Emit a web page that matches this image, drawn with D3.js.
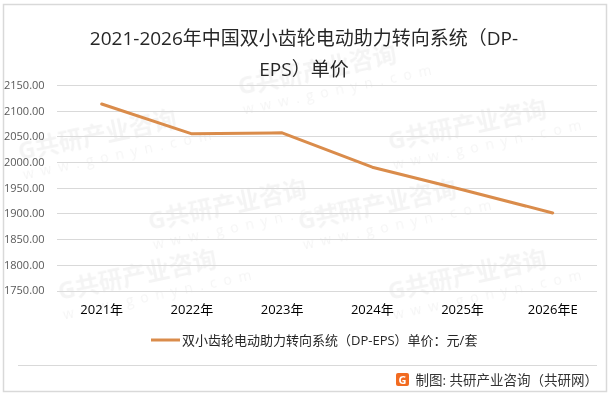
<!DOCTYPE html>
<html>
<head>
<meta charset="utf-8">
<script src="https://cdn.jsdelivr.net/npm/d3@7"></script>
<style>
  body { margin: 0; background: #fff; }
  svg text { font-family: "Open Sans", "Noto Sans CJK SC", sans-serif; }
</style>
</head>
<body>
<div id="chart"></div>
<script>
// chart data
var years = ["2021年", "2022年", "2023年", "2024年", "2025年", "2026年E"];
var prices = [2113, 2055, 2057, 1990, 1946, 1901];
var yTicks = [1750, 1800, 1850, 1900, 1950, 2000, 2050, 2100, 2150];
var titleLines = ["2021-2026年中国双小齿轮电动助力转向系统（DP-", "EPS）单价"];
var seriesName = "双小齿轮电动助力转向系统（DP-EPS）单价：元/套";

var svgWidth = 614;
var svgHeight = 396;

var svg = d3.select("#chart").append("svg").attr("width", svgWidth).attr("height", svgHeight);

// outer frame
svg.append("rect").attr("x", 3.5).attr("y", 4.5).attr("width", 603).attr("height", 387)
  .attr("fill", "#fff").attr("stroke", "#d9d9d9").attr("stroke-width", 1.5);

// faint watermarks, kept inside the frame
var wm = svg.append("g").attr("fill", "#000").attr("opacity", 0.045).attr("font-weight", "bold");
[[20, 160], [240, 95], [390, 150], [300, 230], [60, 300], [390, 300], [150, 230]].forEach(function(p) {
  var g = wm.append("g").attr("transform", `translate(${p[0]}, ${p[1]}) rotate(-12)`);
  g.append("text").attr("font-size", 24).text("G共研产业咨询");
  g.append("text").attr("y", 20).attr("font-size", 14).attr("font-weight", "normal").attr("letter-spacing", 7).text("www.gonyn.com");
});

// scales
var x = d3.scaleBand().domain(years).range([56.6, 597.8]);
var y = d3.scaleLinear().domain([1750, 2150]).range([290.5, 85]);

// gridlines
svg.append("g").selectAll("line").data(yTicks).enter().append("line")
  .attr("x1", 57).attr("x2", 597)
  .attr("y1", d => Math.round(y(d)) + 0.5).attr("y2", d => Math.round(y(d)) + 0.5)
  .attr("stroke", "#d9d9d9").attr("stroke-width", 1);

// y axis labels
svg.append("g").selectAll("text").data(yTicks).enter().append("text")
  .attr("x", 4).attr("y", d => y(d)).attr("dy", "0.35em")
  .attr("font-size", 11).attr("fill", "#595959")
  .text(d => d3.format(".2f")(d));

// x axis labels
var xAxis = d3.axisBottom(x).tickSize(0).tickPadding(0);
var xg = svg.append("g").attr("transform", "translate(0, 305)").call(xAxis);
xg.select(".domain").remove();
xg.selectAll("text").attr("font-size", 13).attr("fill", "#000")
  .style("font-family", "\"Open Sans\", \"Noto Sans CJK SC\", sans-serif");

// line
var line = d3.line().x((d, i) => x(years[i]) + x.bandwidth() / 2).y(d => y(d));
svg.append("path").datum(prices).attr("d", line)
  .attr("fill", "none").attr("stroke", "#DA8C4B").attr("stroke-width", 3)
  .attr("stroke-linejoin", "round").attr("stroke-linecap", "round");

// title
svg.append("g").selectAll("text").data(titleLines).enter().append("text")
  .attr("x", 304).attr("y", (d, i) => 45 + i * 31)
  .attr("text-anchor", "middle").attr("font-size", 19).attr("fill", "#262626")
  .text(d => d);

// legend
svg.append("line").attr("x1", 151).attr("x2", 180).attr("y1", 340).attr("y2", 340)
  .attr("stroke", "#DA8C4B").attr("stroke-width", 3);
svg.append("text").attr("x", 182).attr("y", 340).attr("dy", "0.35em")
  .attr("font-size", 13).attr("fill", "#262626").text(seriesName);

// footer separator and source
svg.append("line").attr("x1", 18).attr("x2", 597).attr("y1", 365.5).attr("y2", 365.5)
  .attr("stroke", "#d9d9d9").attr("stroke-width", 1);
svg.append("rect").attr("x", 396).attr("y", 373).attr("width", 13).attr("height", 13).attr("rx", 2)
  .attr("fill", "#F26B21");
svg.append("text").attr("x", 402.5).attr("y", 384).attr("text-anchor", "middle")
  .attr("font-size", 11).attr("font-weight", "bold").attr("fill", "#fff").text("G");
svg.append("text").attr("x", 598).attr("y", 380).attr("dy", "0.35em").attr("text-anchor", "end")
  .attr("font-size", 13.5).attr("fill", "#333").text("制图: 共研产业咨询（共研网）");
</script>
</body>
</html>
